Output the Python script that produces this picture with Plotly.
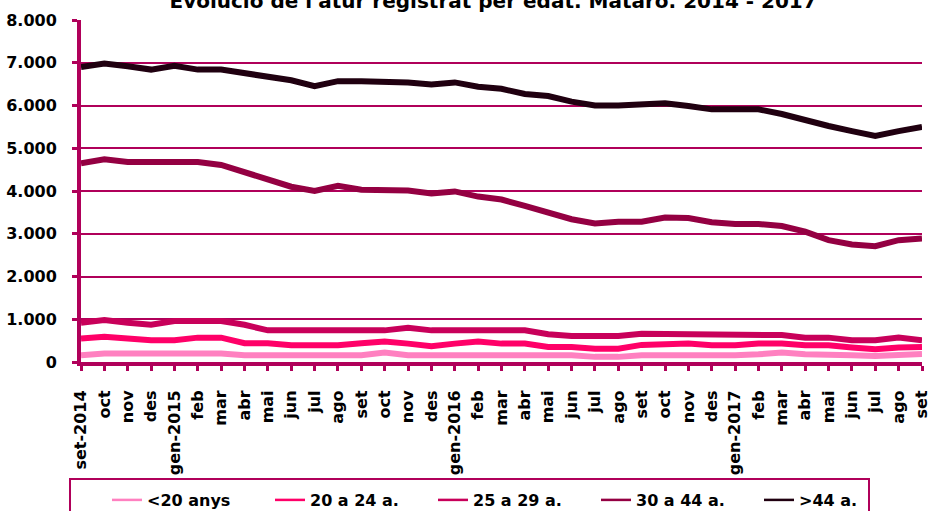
import plotly.graph_objects as go

months = ["set-2014", "oct", "nov", "des", "gen-2015", "feb", "mar", "abr", "mai", "jun", "jul", "ago",
          "set", "oct", "nov", "des", "gen-2016", "feb", "mar", "abr", "mai", "jun", "jul", "ago",
          "set", "oct", "nov", "des", "gen-2017", "feb", "mar", "abr", "mai", "jun", "jul", "ago", "set"]

under20 = [160, 200, 200, 200, 200, 200, 200, 160, 160, 160, 160, 160,
           160, 220, 160, 160, 160, 160, 160, 160, 160, 160, 120, 120,
           160, 160, 170, 140, 160, 180, 220, 180, 180, 160, 140, 160, 190]
a20_24 = [550, 590, 550, 510, 510, 570, 570, 440, 440, 390, 390, 390,
          440, 480, 430, 370, 430, 480, 430, 430, 350, 350, 310, 310,
          400, 400, 430, 390, 390, 430, 430, 390, 390, 340, 300, 340, 350]
a25_29 = [920, 980, 920, 870, 960, 960, 960, 870, 740, 740, 740, 740,
          740, 740, 800, 740, 740, 740, 740, 740, 650, 610, 610, 610,
          660, 660, 640, 630, 630, 630, 630, 570, 570, 510, 510, 570, 510]
a30_44 = [4650, 4740, 4680, 4680, 4680, 4680, 4610, 4430, 4250, 4100, 4000, 4120,
          4030, 4030, 4010, 3940, 3990, 3870, 3800, 3650, 3490, 3340, 3240, 3280,
          3280, 3380, 3370, 3270, 3230, 3230, 3180, 3050, 2850, 2750, 2710, 2850, 2890]
over44 = [6900, 6980, 6920, 6840, 6930, 6840, 6840, 6750, 6670, 6590, 6450, 6570,
          6570, 6570, 6540, 6490, 6540, 6440, 6390, 6270, 6220, 6090, 6000, 6000,
          6040, 6050, 5990, 5910, 5910, 5910, 5800, 5650, 5520, 5400, 5290, 5400, 5500]

series_names = ["<20 anys", "20 a 24 a.", "25 a 29 a.", "30 a 44 a.", ">44 a."]
series_values = [under20, a20_24, a25_29, a30_44, over44]
series_colors = ["#FF80C0", "#FF0068", "#C8005A", "#940042", "#200010"]

y_ticks = [0, 1000, 2000, 3000, 4000, 5000, 6000, 7000, 8000]
y_ticktext = ["0", "1.000", "2.000", "3.000", "4.000", "5.000", "6.000", "7.000", "8.000"]

title_text = "Evolució de l'atur registrat per edat. Mataró. 2014 - 2017"

FONT = "DejaVu Sans"
AXIS_COLOR = "#B0005A"
W, H = 928, 511
ML, MR, MT, MB = 81, 6, 20, 149
plot_w = W - ML - MR
plot_h = H - MT - MB


def px_to_paper_x(px):
    return (px - ML) / plot_w


def px_to_paper_y(py):
    return (H - MB - py) / plot_h


x_idx = list(range(len(months)))

fig = go.Figure()
for name, vals, col in zip(series_names, series_values, series_colors):
    fig.add_trace(go.Scatter(x=x_idx, y=vals, mode="lines", name=name,
                             line=dict(color=col, width=6), legendgroup=name,
                             showlegend=False))
for name, col in zip(series_names, series_colors):
    fig.add_trace(go.Scatter(x=[None], y=[None], mode="lines", name=name,
                             line=dict(color=col, width=2.5), legendgroup=name,
                             showlegend=True))

fig.add_shape(type="rect", xref="paper", yref="paper",
              x0=px_to_paper_x(70), x1=px_to_paper_x(869),
              y0=px_to_paper_y(479), y1=px_to_paper_y(525),
              line=dict(color=AXIS_COLOR, width=2), fillcolor="rgba(0,0,0,0)")

fig.update_layout(
    width=W, height=H,
    margin=dict(l=ML, r=MR, t=MT, b=MB, autoexpand=False),
    paper_bgcolor="white", plot_bgcolor="white",
    font=dict(family=FONT, size=16, color="black"),
    title=dict(text="<b>" + title_text + "</b>", xref="paper", x=0.49, xanchor="center",
               yref="container", y=1 - 1 / H, yanchor="middle",
               font=dict(family=FONT, size=20, color="black")),
    showlegend=True,
    legend=dict(orientation="h", xref="container", yref="container",
                x=107 / W, xanchor="left", y=1 - 483 / H, yanchor="top",
                borderwidth=0, bgcolor="rgba(0,0,0,0)",
                entrywidth=118, entrywidthmode="pixels",
                font=dict(family=FONT, size=16, color="black", weight="bold")),
)
fig.update_xaxes(
    range=[0, len(months) - 1], tickmode="array", tickvals=x_idx, ticktext=months,
    tickangle=-90, showgrid=False, zeroline=False, automargin=False,
    showline=True, linecolor=AXIS_COLOR, linewidth=4,
    ticks="outside", ticklen=5, tickwidth=3, tickcolor=AXIS_COLOR,
    tickfont=dict(family=FONT, size=16, color="black", weight="bold"),
    ticklabelstandoff=13, ticklabeloverflow="allow",
)
fig.update_yaxes(
    range=[0, 8000], tickmode="array", tickvals=y_ticks, ticktext=y_ticktext,
    showgrid=True, gridcolor=AXIS_COLOR, gridwidth=2, zeroline=False, automargin=False,
    showline=True, linecolor=AXIS_COLOR, linewidth=4,
    ticks="outside", ticklen=5, tickwidth=3, tickcolor=AXIS_COLOR,
    tickfont=dict(family=FONT, size=16, color="black", weight="bold"),
    ticklabelstandoff=12,
)

fig.write_html("out.html", config={"displayModeBar": False},
               post_script="document.body.style.margin='0';")
